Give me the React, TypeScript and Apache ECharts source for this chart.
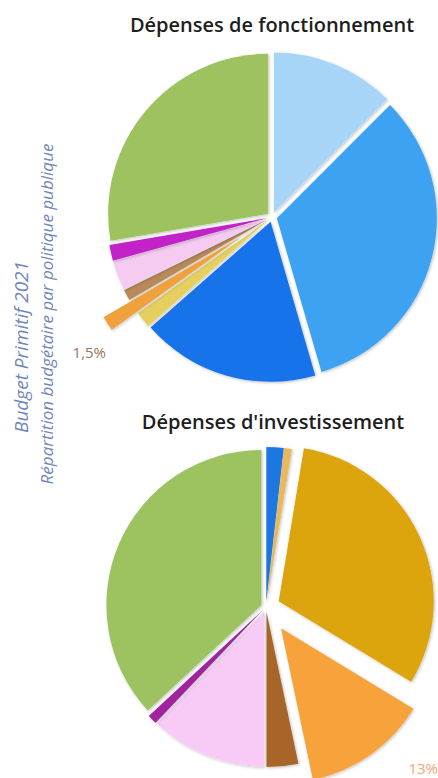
import React, { useEffect, useRef } from "react";
import * as echarts from "echarts";

// ---- Data ----
const chartTitles = ["Dépenses de fonctionnement", "Dépenses d'investissement"];
const sideLines = ["Budget Primitif 2021", "Répartition budgétaire par politique publique"];

const fonctCategories = [
  "Politique 1", "Politique 2", "Politique 3", "Politique 4", "Politique 5",
  "Politique 6", "Politique 7", "Politique 8", "Politique 9",
];
const fonctValues = [12.5, 33.0, 18.0, 1.6, 1.5, 1.1, 3.0, 1.6, 27.7];
const fonctLabelled = 4;

const investCategories = [
  "Politique A", "Politique B", "Politique C", "Politique D",
  "Politique E", "Politique F", "Politique G", "Politique H",
];
const investValues = [1.8, 0.8, 31.1, 13.0, 3.3, 12.1, 1.0, 36.9];
const investLabelled = 3;

// ---- Styles ----
const fonctColors = ["#A6D5F7", "#3DA2F2", "#1673EA", "#E4CF5E", "#EFA13A", "#B88A5A", "#F5CBF2", "#C321C8", "#9DC25E"];
const fonctExplode = [5, 5, 5, 5, 36, 5, 5, 5, 5];
const investColors = ["#1E78E0", "#E9B85A", "#DCA40F", "#F7A23B", "#A8652A", "#F7CBF5", "#A0249E", "#9CC35E"];
const investExplode = [5, 5, 14, 26, 5, 5, 5, 5];

const fmtPct = (v: number) => String(v).replace(".", ",") + "%";

function pieSeries(
  cats: string[], vals: number[], colors: string[], explode: number[],
  center: [number, number], radius: number
) {
  const groups = Array.from(new Set(explode));
  return groups.map((off) => ({
    type: "pie",
    center,
    radius,
    startAngle: 90,
    clockwise: true,
    selectedMode: "multiple",
    selectedOffset: off,
    avoidLabelOverlap: false,
    emphasis: { disabled: true },
    label: { show: false },
    labelLine: { show: false },
    data: vals.map((v, i) => {
      const inGroup = explode[i] === off;
      return {
        name: cats[i],
        value: v,
        selected: inGroup,
        itemStyle: inGroup
          ? { color: colors[i], shadowBlur: 3, shadowColor: "rgba(0,0,0,0.25)", shadowOffsetX: 1, shadowOffsetY: 1 }
          : { color: "rgba(0,0,0,0)" },
        select: { itemStyle: inGroup ? { color: colors[i] } : { color: "rgba(0,0,0,0)" } },
      };
    }),
  }));
}

export default function App() {
  const ref = useRef<HTMLDivElement>(null);
  useEffect(() => {
    document.body.style.margin = "0";
    const chart = echarts.init(ref.current!, undefined, { renderer: "svg" });
    const titleStyle = { fontSize: 20, fontFamily: "Open Sans", fontWeight: 600, fill: "#1E1E1E" };
    const side1 = { fontSize: 19, fontFamily: "Open Sans", fontStyle: "italic", fill: "#6F86B9" };
    const side2 = { fontSize: 17, fontFamily: "Open Sans", fontStyle: "italic", fill: "#6F86B9" };
    const lblStyle = { fontSize: 15, fontFamily: "Open Sans", align: "right", verticalAlign: "middle" };
    chart.setOption({
      animation: false,
      backgroundColor: "#FFFFFF",
      graphic: [
        { type: "text", x: 272, y: 24, style: { ...titleStyle, text: chartTitles[0], align: "center", verticalAlign: "middle" } },
        { type: "text", x: 273, y: 421, style: { ...titleStyle, text: chartTitles[1], align: "center", verticalAlign: "middle" } },
        { type: "text", x: 21, y: 347, rotation: Math.PI / 2, style: { ...side1, text: sideLines[0], align: "center", verticalAlign: "middle" } },
        { type: "text", x: 46, y: 314, rotation: Math.PI / 2, style: { ...side2, text: sideLines[1], align: "center", verticalAlign: "middle" } },
        { type: "text", x: 106, y: 352, style: { ...lblStyle, text: fmtPct(fonctValues[fonctLabelled]), fill: "#9A7456" } },
        { type: "text", x: 438, y: 768, style: { ...lblStyle, text: fmtPct(investValues[investLabelled]), fill: "#F2A477" } },
      ],
      series: [
        ...pieSeries(fonctCategories, fonctValues, fonctColors, fonctExplode, [272, 217], 160),
        ...pieSeries(investCategories, investValues, investColors, investExplode, [266, 607], 155),
      ],
    });
    return () => chart.dispose();
  }, []);
  return <div ref={ref} style={{ position: "fixed", left: 0, top: 0, width: 438, height: 778 }} />;
}
